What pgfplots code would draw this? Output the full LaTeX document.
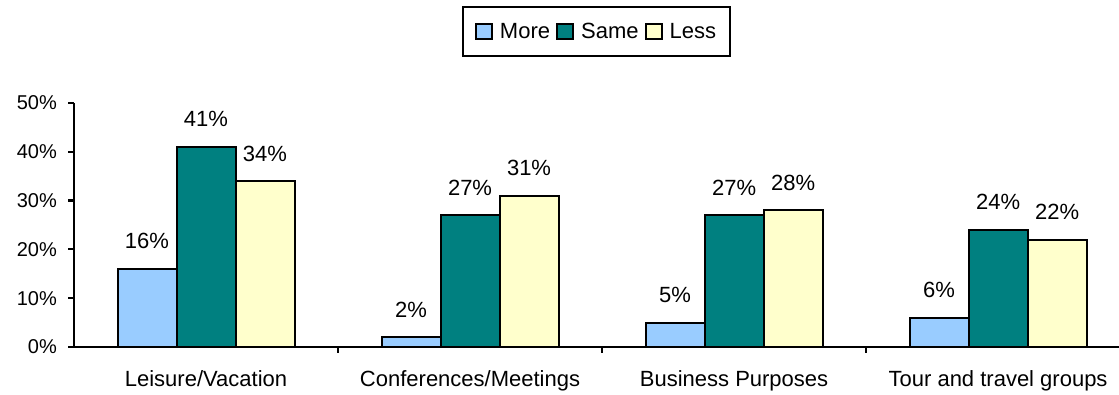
\documentclass[border=0pt]{standalone}
\usepackage{fontspec}
\setmainfont{Liberation Sans}
\usepackage{pgfplots}
\pgfplotsset{compat=1.18}
\definecolor{cMore}{HTML}{99CCFF}
\definecolor{cSame}{HTML}{008080}
\definecolor{cLess}{HTML}{FFFFCC}
\pgfplotsset{sqlegend/.style={legend image code/.code={\draw[##1, draw=black, line width=2pt] (0pt,-7.5pt) rectangle (16pt,7.5pt);}}}
\begin{document}
\begin{tikzpicture}[font=\fontsize{20}{24}\selectfont]
\useasboundingbox (0,0) rectangle (1119pt,395pt);
\begin{axis}[
  at={(74pt,48pt)}, anchor=south west,
  scale only axis, width=1045pt, height=244pt,
  xmin=-0.5, xmax=3.458, ymin=0, ymax=50,
  ybar=0pt, bar width=59pt,
  axis lines*=left,
  axis line style={line width=2.2pt, black},
  ytick={0,10,20,30,40,50},
  yticklabel={\pgfmathprintnumber{\tick}\%},
  yticklabel style={anchor=east, inner sep=0pt, xshift=-11pt},
  xtick={0.5,1.5,2.5}, xticklabels={},
  extra x ticks={0,1,2,3},
  extra x tick labels={Leisure/Vacation, Conferences/Meetings, Business Purposes, Tour and travel groups},
  extra x tick style={major tick length=0pt, tick label style={anchor=north, inner sep=0pt, yshift=-23pt, font=\fontsize{22}{26}\selectfont}},
  tick align=outside, major tick length=6pt,
  tick style={line width=2.2pt, black},
  /pgf/number format/assume math mode=true,
  nodes near coords={\pgfmathprintnumber{\pgfplotspointmeta}\%},
  nodes near coords style={anchor=base, inner sep=0pt, yshift=20pt, font=\fontsize{22}{26}\selectfont, black},
  legend columns=-1,
  legend style={at={(0.5,1.3975)}, anchor=north, draw=black, line width=2pt,
    font=\fontsize{22}{26}\selectfont, inner xsep=12pt, inner ysep=14pt,
    /tikz/every even column/.append style={column sep=4pt},
    /tikz/every odd column/.append style={column sep=0pt}},
]
\addplot[fill=cMore, draw=black, line width=2pt, sqlegend] coordinates {(0,16) (1,2) (2,5) (3,6)};
\addplot[fill=cSame, draw=black, line width=2pt, sqlegend] coordinates {(0,41) (1,27) (2,27) (3,24)};
\addplot[fill=cLess, draw=black, line width=2pt, sqlegend] coordinates {(0,34) (1,31) (2,28) (3,22)};
\legend{\hspace{5pt}More\hspace{13pt}, \hspace{5pt}Same\hspace{13pt}, \hspace{5pt}Less}
\end{axis}
\end{tikzpicture}
\end{document}
